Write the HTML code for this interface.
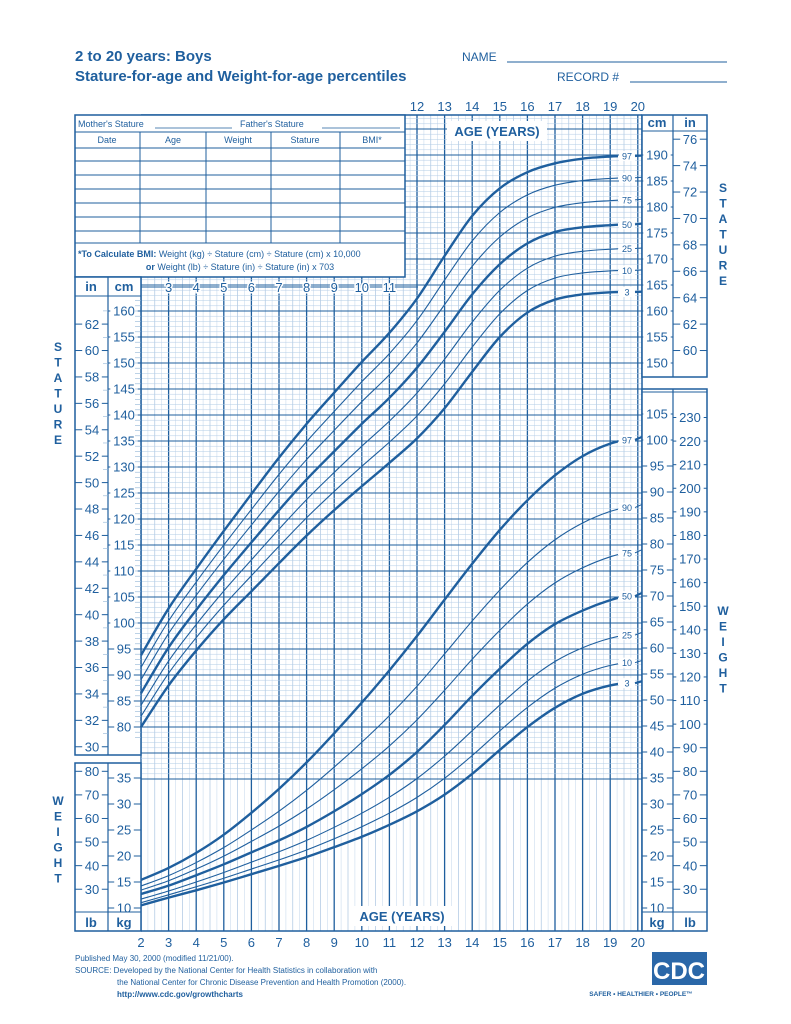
<!DOCTYPE html>
<html><head><meta charset="utf-8"><style>
html,body{margin:0;padding:0;background:#fff;}
svg{display:block;font-family:"Liberation Sans",sans-serif;}
</style></head><body>
<svg id="s" width="791" height="1024" viewBox="0 0 791 1024" xmlns="http://www.w3.org/2000/svg">
<defs><clipPath id="cp"><rect x="130" y="100" width="488" height="840"/></clipPath></defs>
<rect width="791" height="1024" fill="#fff"/>
<g id="grid"></g>
<g id="cols"></g>
<g id="curves"></g>
<g id="txt" fill="#1f5f9e"></g>
</svg>
<script>
const NS="http://www.w3.org/2000/svg";
const C="#1f5f9e";
function el(p,t,a,txt){const e=document.createElementNS(NS,t);for(const k in a)e.setAttribute(k,a[k]);if(txt!==undefined)e.textContent=txt;document.getElementById(p).appendChild(e);return e;}
const X=a=>141+(a-2)*27.6;
const YS=cm=>311-(cm-160)*5.2;
const YW=kg=>908-(kg-10)*5.2;
function line(p,x1,y1,x2,y2,c,w){el(p,"line",{x1,y1,x2,y2,stroke:c,"stroke-width":w});}
const GL=141,GR=642,GT=115,GB=931;
for(let a=2;a<=20;a+=0.25){const x=X(a);const maj=Math.abs(a-Math.round(a))<1e-6;const half=Math.abs(a*2-Math.round(a*2))<1e-6;
 line("grid",x,GT,x,GB,maj?C:(half?"#9dbcdc":"#cbdcee"),maj?1.3:0.6);}
for(let cm=70;cm<=200;cm++){const y=YS(cm);if(y<GT||y>GB)continue;const maj=cm%5==0;
 line("grid",GL,y,GR,y,maj?C:"#b3cce6",maj?1.1:0.5);}
line("grid",GL,GT,GR,GT,C,1.5);line("grid",GL,GB,GR,GB,C,1.5);line("grid",GR,GT,GR,GB,C,1.5);
el("cols","rect",{x:75,y:115,width:330,height:162,fill:"#fff",stroke:C,"stroke-width":1.5});
line("cols",75,132,405,132,C,1);line("cols",75,148,405,148,C,1);
[161,175,189,203,217,231].forEach(y=>line("cols",75,y,405,y,C,1));
[140,206,271,340].forEach(x=>line("cols",x,132,x,243,C,1));
line("cols",75,243,405,243,C,1);
line("cols",155,128,232,128,C,0.8);line("cols",322,128,400,128,C,0.8);
el("cols","rect",{x:75,y:277,width:66,height:478,fill:"#fff",stroke:C,"stroke-width":1.5});
line("cols",108,277,108,755,C,1.2);line("cols",75,296,141,296,C,1);
for(let cm=78;cm<=162;cm++){const y=YS(cm);if(y<297||y>753)continue;line("cols",135,y,141,y,"#8fb3d6",0.6);}
for(let i=30;i<=63;i++){const y=YS(i*2.54);if(y<297||y>753)continue;line("cols",103,y,108,y,"#8fb3d6",0.6);}
el("cols","rect",{x:75,y:763,width:66,height:168,fill:"#fff",stroke:C,"stroke-width":1.5});
line("cols",108,763,108,931,C,1.2);line("cols",75,912,141,912,C,1);
el("cols","rect",{x:642,y:115,width:65,height:262,fill:"#fff",stroke:C,"stroke-width":1.5});
line("cols",673,115,673,377,C,1.2);line("cols",642,131,707,131,C,1);
el("cols","rect",{x:642,y:389,width:65,height:542,fill:"#fff",stroke:C,"stroke-width":1.5});
line("cols",673,389,673,931,C,1.2);line("cols",642,912,707,912,C,1);line("cols",642,392,707,392,C,1);
function T(x,y,s,sz,opt){opt=opt||{};return el("txt","text",Object.assign({x,y,"font-size":sz,"text-anchor":opt.a||"middle","font-weight":opt.b?"bold":"normal"},opt.halo?{stroke:"#fff","stroke-width":3,"paint-order":"stroke"}:{}),s);}
function dashLbl(x,y,s,sz,x1,x2){T(x,y+sz*0.36,s,sz);const w=s.length*sz*0.3+2;line("cols",x1,y,x-w,y,C,1);line("cols",x+w,y,x2,y,C,1);}
for(let cm=80;cm<=160;cm+=5)dashLbl(124,YS(cm),String(cm),13,108,141);
for(let i=30;i<=62;i+=2)dashLbl(92,YS(i*2.54),String(i),13,75,108);
T(91,291,"in",13,{b:1});T(124,291,"cm",13,{b:1});
for(let kg=10;kg<=35;kg+=5)dashLbl(124,YW(kg),String(kg),13,108,141);
for(let lb=30;lb<=80;lb+=10)dashLbl(92,YW(lb*0.4536),String(lb),13,75,108);
T(91,927,"lb",13,{b:1});T(124,927,"kg",13,{b:1});
for(let cm=150;cm<=190;cm+=5)dashLbl(657,YS(cm),String(cm),13,642,673);
for(let i=60;i<=76;i+=2)dashLbl(690,YS(i*2.54),String(i),13,673,707);
T(657,127,"cm",13,{b:1});T(690,127,"in",13,{b:1});
for(let kg=10;kg<=105;kg+=5)dashLbl(657,YW(kg),String(kg),13,642,673);
for(let lb=30;lb<=230;lb+=10)dashLbl(690,YW(lb*0.4536),String(lb),13,673,707);
T(657,927,"kg",13,{b:1});T(690,927,"lb",13,{b:1});
for(let a=12;a<=20;a++)T(X(a),111,String(a),13);
for(let a=2;a<=20;a++)T(X(a),947,String(a),13);
line("cols",141,287,418,287,C,1);
for(let a=3;a<=11;a++)T(X(a),292,String(a),13,{halo:1});
el("cols","rect",{x:447,y:121,width:100,height:20,fill:"#fff"});
T(497,136,"AGE (YEARS)",13,{b:1});
el("cols","rect",{x:352,y:906,width:100,height:20,fill:"#fff"});
T(402,921,"AGE (YEARS)",13,{b:1});
"STATURE".split("").forEach((c,i)=>{T(58,351+i*15.5,c,12,{b:1});T(723,192+i*15.5,c,12,{b:1});});
"WEIGHT".split("").forEach((c,i)=>{T(58,805+i*15.5,c,12,{b:1});T(723,615+i*15.5,c,12,{b:1});});
T(78,127,"Mother's Stature",9,{a:"start"});T(240,127,"Father's Stature",9,{a:"start"});
T(107,143,"Date",9);T(173,143,"Age",9);T(238,143,"Weight",9);T(305,143,"Stature",9);T(372,143,"BMI*",9);
el("txt","text",{x:78,y:257,"font-size":9},"").innerHTML='<tspan font-weight="bold">*To Calculate BMI:</tspan> Weight (kg) ÷ Stature (cm) ÷ Stature (cm) x 10,000';
el("txt","text",{x:240,y:270,"font-size":9,"text-anchor":"middle"},"").innerHTML='<tspan font-weight="bold">or</tspan> Weight (lb) ÷ Stature (in) ÷ Stature (in) x 703';
T(75,61,"2 to 20 years: Boys",15,{a:"start",b:1});
T(75,81,"Stature-for-age and Weight-for-age percentiles",15,{a:"start",b:1});
T(462,61,"NAME",12,{a:"start"});line("cols",507,62,727,62,C,1);
T(557,81,"RECORD #",12,{a:"start"});line("cols",630,82,727,82,C,1);
T(75,961,"Published May 30, 2000 (modified 11/21/00).",8,{a:"start"});
T(75,973,"SOURCE: Developed by the National Center for Health Statistics in collaboration with",8,{a:"start"});
T(117,985,"the National Center for Chronic Disease Prevention and Health Promotion (2000).",8,{a:"start"});
T(117,997,"http://www.cdc.gov/growthcharts",8,{a:"start",b:1});
el("cols","rect",{x:652,y:952,width:55,height:33,fill:"#2a67a8"});
T(679,979,"CDC",24,{b:1}).setAttribute("fill","#fff");
T(641,996,"SAFER • HEALTHIER • PEOPLE™",6.5,{b:1});
const S3=[80.0,88.0,94.7,100.7,106.1,111.5,116.8,121.7,126.3,130.8,135.5,141.3,148.3,155.0,159.7,162.2,163.2,163.6,163.7];
const S50=[86.5,95.3,102.5,109.2,115.5,121.7,127.6,133.0,138.3,143.3,149.1,156.0,163.2,169.0,173.0,175.2,176.1,176.5,176.8];
const S97=[93.8,102.8,110.4,117.7,124.8,131.8,138.3,144.3,150.2,155.8,162.4,170.6,178.3,183.6,186.7,188.4,189.3,189.7,189.9];
const W3=[10.5,12.0,13.4,14.9,16.5,18.1,19.8,21.7,23.7,26.0,28.6,31.8,35.8,40.4,44.8,48.5,51.2,52.8,53.6];
const W50=[12.7,14.3,16.3,18.4,20.7,23.0,25.6,28.6,31.9,35.6,40.0,45.2,50.8,56.0,60.8,64.6,67.2,69.2,70.6];
const W97=[15.4,17.7,20.6,24.1,28.3,32.9,38.0,43.6,49.5,55.7,62.3,69.3,76.2,82.7,88.4,93.2,96.9,99.3,100.6];
function interp(p3,p50,p97,lo,hi,p){return p50.map((m,i)=>{if(p==3)return p3[i];if(p==97)return p97[i];if(p==50)return m;
 if(p<50)return m-(m-p3[i])*(p==25?lo[0]:lo[1]);return m+(p97[i]-m)*(p==75?hi[0]:hi[1]);});}
function path(vals,Y){const pts=vals.map((v,i)=>[X(2+i),Y(v)]);
 let d="M"+pts[0][0]+","+pts[0][1];
 for(let i=0;i<pts.length-1;i++){const p0=pts[Math.max(0,i-1)],p1=pts[i],p2=pts[i+1],p3=pts[Math.min(pts.length-1,i+2)];
  const c1=[p1[0]+(p2[0]-p0[0])/6,p1[1]+(p2[1]-p0[1])/6],c2=[p2[0]-(p3[0]-p1[0])/6,p2[1]-(p3[1]-p1[1])/6];
  d+=" C"+c1.join(",")+" "+c2.join(",")+" "+p2.join(",");}
 return d;}
const P=[3,10,25,50,75,90,97];
function series(p3,p50,p97,lo,hi,Y){P.forEach(p=>{const v=interp(p3,p50,p97,lo,hi,p);
 const thick=(p==3||p==50||p==97);
 el("curves","path",{d:path(v,Y),fill:"none",stroke:C,"stroke-width":thick?2.4:1.1,"clip-path":"url(#cp)"});
 const y=Y(v[17]+(v[18]-v[17])*0.55);
 el("curves","rect",{x:619,y:y-5,width:16,height:10,fill:"#fff"});
 el("curves","text",{x:627,y:y+3.5,"font-size":9,"text-anchor":"middle",fill:C},String(p));
 line("curves",635,y,642,Y(v[18]),C,thick?2.2:1);
});}
series(S3,S50,S97,[0.358,0.681],[0.358,0.681],YS);
series(W3,W50,W97,[0.447,0.765],[0.277,0.567],YW);
</script>
</body></html>
